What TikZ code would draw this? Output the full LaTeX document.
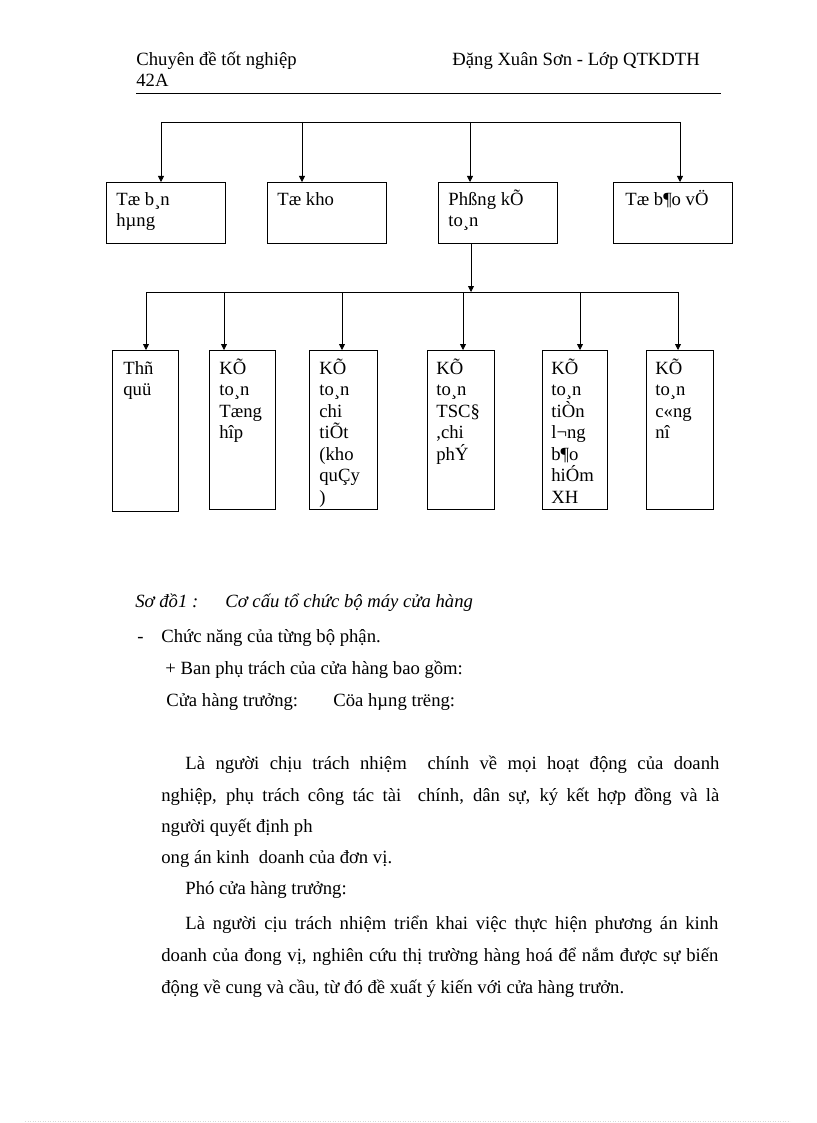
\documentclass[tikz,border=0pt]{standalone}
\usepackage{fontspec}
\setmainfont{Liberation Serif}
\usetikzlibrary{arrows.meta,positioning}

\newcommand\pagefont{\fontsize{18.67pt}{21.5pt}\selectfont}
\newcommand\topstrut{\rule{0pt}{17pt}}

\begin{document}
\begin{tikzpicture}[x=1pt,y=-1pt,line width=0.8pt,>={Triangle[length=6pt,width=6pt]},every node/.style={font=\pagefont}]
\tikzstyle{box}=[draw,rectangle,anchor=north west,inner sep=0pt]
\tikzstyle{topbox}=[box,minimum width=119pt,minimum height=61pt]
\tikzstyle{subbox}=[box,minimum width=67pt,minimum height=159pt]
\tikzstyle{inbox}=[inner sep=0pt,align=left]
\tikzstyle{txt}=[anchor=base west,inner sep=0pt]
\useasboundingbox (0,0) rectangle (816,1123);

% header
\node[txt] (head1) at (136,66) {Chuyên đề tốt nghiệp};
\node[txt] (head2) at (136,87) {42A};
\node[txt] (head3) at (452,66) {Đặng Xuân Sơn - Lớp QTKDTH};
\draw[line width=0.6pt] (136,93) -- (721,93);

% first level
\node[topbox] (tb) at (106,182) {};
\node[topbox] (tk) at (267,182) {};
\node[topbox] (pk) at (438,182) {};
\node[topbox] (bv) at (613,182) {};
\node[inbox,below right=6pt and 10pt of tb.north west] (tbt) {\topstrut Tæ b¸n\\hµng};
\node[inbox,below right=6pt and 10pt of tk.north west] (tkt) {\topstrut Tæ kho};
\node[inbox,below right=6pt and 10pt of pk.north west] (pkt) {\topstrut Phßng kÕ\\to¸n};
\node[inbox,below right=6pt and 12pt of bv.north west] (bvt) {\topstrut Tæ b¶o vÖ};

\coordinate (t1) at (161,122);
\coordinate (t2) at (302,122);
\coordinate (t3) at (470,122);
\coordinate (t4) at (680,122);
\draw (t1) -- (t4);
\draw[->] (t1) -- (t1 |- tb.north);
\draw[->] (t2) -- (t2 |- tk.north);
\draw[->] (t3) -- (t3 |- pk.north);
\draw[->] (t4) -- (t4 |- bv.north);

% second level
\node[subbox,minimum height=161pt,minimum width=66pt] (tq) at (112,350) {};
\node[subbox,minimum width=66pt] (th) at (209,350) {};
\node[subbox,minimum width=68pt] (ct) at (309,350) {};
\node[subbox] (ts) at (427,350) {};
\node[subbox,minimum width=65pt] (tl) at (542,350) {};
\node[subbox] (cn) at (646,350) {};
\node[inbox,below right=7pt and 11pt of tq.north west] (tqt) {\topstrut Thñ\\quü};
\node[inbox,below right=7pt and 10pt of th.north west] (tht) {\topstrut KÕ\\to¸n\\Tæng\\hîp};
\node[inbox,below right=7pt and 10pt of ct.north west] (ctt) {\topstrut KÕ\\to¸n\\chi\\tiÕt\\(kho\\quÇy\\)};
\node[inbox,below right=7pt and 9pt of ts.north west] (tst) {\topstrut KÕ\\to¸n\\TSC§\\,chi\\phÝ};
\node[inbox,below right=7pt and 9pt of tl.north west] (tlt) {\topstrut KÕ\\to¸n\\tiÒn\\l¬ng\\b¶o\\hiÓm\\XH};
\node[inbox,below right=7pt and 9pt of cn.north west] (cnt) {\topstrut KÕ\\to¸n\\c«ng\\nî};

\coordinate (s0) at (471,292);
\coordinate (s1) at (146,292);
\coordinate (s2) at (224,292);
\coordinate (s3) at (342,292);
\coordinate (s4) at (463,292);
\coordinate (s5) at (580,292);
\coordinate (s6) at (678,292);
\draw[->] (s0 |- pk.south) -- (s0);
\draw (s1) -- (s6);
\draw[->] (s1) -- (s1 |- tq.north);
\draw[->] (s2) -- (s2 |- th.north);
\draw[->] (s3) -- (s3 |- ct.north);
\draw[->] (s4) -- (s4 |- ts.north);
\draw[->] (s5) -- (s5 |- tl.north);
\draw[->] (s6) -- (s6 |- cn.north);

% caption and text
\node[txt,font=\pagefont\itshape] (cap1) at (135,607) {Sơ đồ1 :};
\node[txt,font=\pagefont\itshape] (cap2) at (225,607) {Cơ cấu tổ chức bộ máy cửa hàng};
\node[txt] (l0) at (137,642) {-};
\node[txt] (l1) at (161,642) {Chức năng của từng bộ phận.};
\node[txt] (l2) at (165,674) {+ Ban phụ trách của cửa hàng bao gồm:};
\node[txt] (l3) at (166,706) {Cửa hàng trưởng:};
\node[txt] (l3b) at (333,706) {Cöa hµng trëng:};
\node[txt] (l4) at (185,769) {\makebox[534pt][s]{Là người chịu trách nhiệm\ \ chính về mọi hoạt động của doanh}};
\node[txt] (l5) at (161,801) {\makebox[558pt][s]{nghiệp, phụ trách công tác tài\ \ chính, dân sự, ký kết hợp đồng và là}};
\node[txt] (l6) at (161,832) {người quyết định ph};
\node[txt] (l7) at (161,863) {ong án kinh\ \ doanh của đơn vị.};
\node[txt] (l8) at (185,894) {Phó cửa hàng trưởng:};
\node[txt] (l9) at (185,929) {\makebox[533pt][s]{Là người cịu trách nhiệm triển khai việc thực hiện phương án kinh}};
\node[txt] (l10) at (161,961) {\makebox[557pt][s]{doanh của đong vị, nghiên cứu thị trường hàng hoá để nắm được sự biến}};
\node[txt] (l11) at (161,993) {động về cung và cầu, từ đó đề xuất ý kiến với cửa hàng trưởn.};

\draw[black!15,line width=0.5pt,dotted] (25,1121) -- (790,1121);
\end{tikzpicture}
\end{document}
